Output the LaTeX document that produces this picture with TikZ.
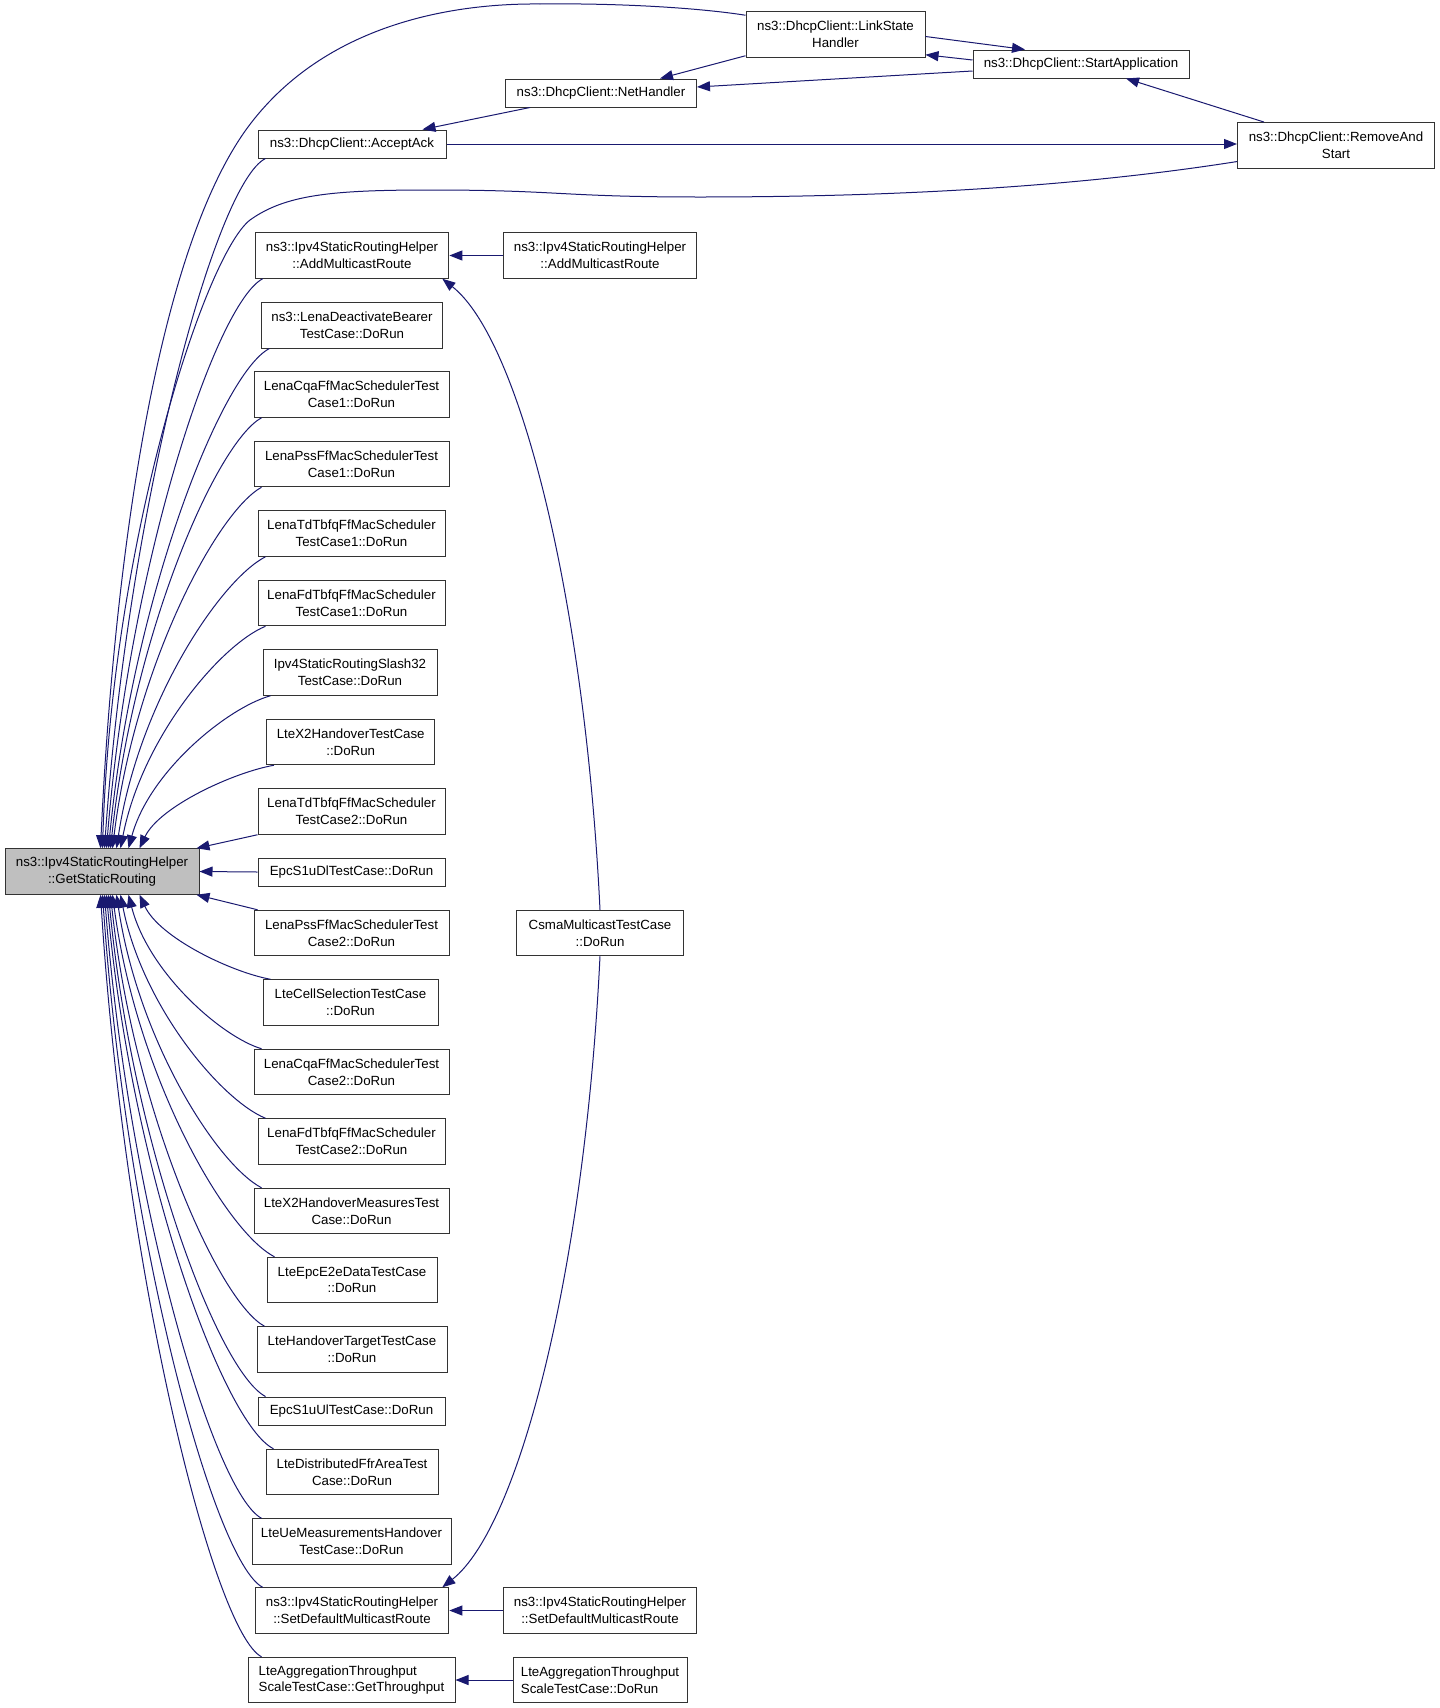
\documentclass[tikz,border=0pt]{standalone}
\usepackage{fontspec}
\setmainfont{Liberation Sans}
\usetikzlibrary{arrows.meta}
\definecolor{edgeblue}{HTML}{191970}
\definecolor{boxgray}{HTML}{BFBFBF}
\tikzset{
	fn/.style={draw=black!80, line width=1pt, fill=white, inner xsep=0pt, inner ysep=0pt, minimum height=28pt, align=center, font=\fontsize{13.3}{16.7}\selectfont},
	fnn/.style={fn, minimum height=45.5pt},
	call/.style={draw=edgeblue, line width=1pt, -{Triangle[length=13pt,width=10pt]}}
}

\begin{document}
\begin{tikzpicture}[x=1pt,y=1pt]
			%%%%% START %%%%%
			
			\path[fill=white] (0,0) rectangle (1440,-1708);
			
			% top row
			\node[fnn, minimum width=179pt] (ls) at (835.5,-34.5) {ns3::DhcpClient::LinkState\\Handler};
			\node[fn, minimum width=216pt] (sa) at (1081,-64) {ns3::DhcpClient::StartApplication};
			\node[fn, minimum width=191pt] (net) at (601,-93) {ns3::DhcpClient::NetHandler};
			\node[fnn, minimum width=197pt] (ras) at (1336,-145.3) {ns3::DhcpClient::RemoveAnd\\Start};
			
			% main function
			\node[fnn, minimum width=194pt, fill=boxgray] (gsr) at (102,-871.5) {ns3::Ipv4StaticRoutingHelper\\::GetStaticRouting};
			
			% callers
			\node[fn, minimum width=188pt] (acc) at (352,-144) {ns3::DhcpClient::AcceptAck};
			\node[fnn, minimum width=193.7pt] (am1) at (352,-255.5) {ns3::Ipv4StaticRoutingHelper\\::AddMulticastRoute};
			\node[fnn, minimum width=180.3pt] (deact) at (352,-325.3) {ns3::LenaDeactivateBearer\\TestCase::DoRun};
			\node[fnn, minimum width=195pt] (cqa1) at (351.5,-394.5) {LenaCqaFfMacSchedulerTest\\Case1::DoRun};
			\node[fnn, minimum width=195pt] (pss1) at (351.5,-464) {LenaPssFfMacSchedulerTest\\Case1::DoRun};
			\node[fnn, minimum width=187pt] (tdtbfq1) at (351.5,-533.5) {LenaTdTbfqFfMacScheduler\\TestCase1::DoRun};
			\node[fnn, minimum width=187pt] (fdtbfq1) at (351.5,-603) {LenaFdTbfqFfMacScheduler\\TestCase1::DoRun};
			\node[fnn, minimum width=174pt] (slash32) at (350,-672.5) {Ipv4StaticRoutingSlash32\\TestCase::DoRun};
			\node[fnn, minimum width=168.5pt] (ltex2) at (350.7,-742) {LteX2HandoverTestCase\\::DoRun};
			\node[fnn, minimum width=187pt] (tdtbfq2) at (351.5,-811.5) {LenaTdTbfqFfMacScheduler\\TestCase2::DoRun};
			\node[fn, minimum width=187pt] (epcdl) at (351.5,-872) {EpcS1uDlTestCase::DoRun};
			\node[fnn, minimum width=195pt] (pss2) at (351.5,-933) {LenaPssFfMacSchedulerTest\\Case2::DoRun};
			\node[fnn, minimum width=175pt] (cellsel) at (350.5,-1002.5) {LteCellSelectionTestCase\\::DoRun};
			\node[fnn, minimum width=195pt] (cqa2) at (351.5,-1072) {LenaCqaFfMacSchedulerTest\\Case2::DoRun};
			\node[fnn, minimum width=187pt] (fdtbfq2) at (351.5,-1141.5) {LenaFdTbfqFfMacScheduler\\TestCase2::DoRun};
			\node[fnn, minimum width=195pt] (x2meas) at (351.5,-1211) {LteX2HandoverMeasuresTest\\Case::DoRun};
			\node[fnn, minimum width=170pt] (epce2e) at (352,-1280) {LteEpcE2eDataTestCase\\::DoRun};
			\node[fnn, minimum width=190pt] (hotarget) at (352,-1349.5) {LteHandoverTargetTestCase\\::DoRun};
			\node[fn, minimum width=187pt] (epcul) at (351.5,-1411) {EpcS1uUlTestCase::DoRun};
			\node[fnn, minimum width=172pt] (distffr) at (352,-1472) {LteDistributedFfrAreaTest\\Case::DoRun};
			\node[fnn, minimum width=199pt] (uemeas) at (351.5,-1541.5) {LteUeMeasurementsHandover\\TestCase::DoRun};
			\node[fnn, minimum width=193.7pt] (sd1) at (352,-1610.5) {ns3::Ipv4StaticRoutingHelper\\::SetDefaultMulticastRoute};
			\node[fnn, minimum width=207pt, align=left] (agg) at (351.5,-1680) {LteAggregationThroughput\\ScaleTestCase::GetThroughput};
			
			% second column
			\node[fnn, minimum width=192.4pt] (am2) at (600,-255.5) {ns3::Ipv4StaticRoutingHelper\\::AddMulticastRoute};
			\node[fnn, minimum width=166.4pt] (csma) at (600,-933) {CsmaMulticastTestCase\\::DoRun};
			\node[fnn, minimum width=192.4pt] (sd2) at (600,-1610.5) {ns3::Ipv4StaticRoutingHelper\\::SetDefaultMulticastRoute};
			\node[fnn, minimum width=174pt, align=left] (aggdo) at (600,-1680) {LteAggregationThroughput\\ScaleTestCase::DoRun};
			
			% dhcp client calls
			\draw[call] ([xshift=25pt]net.south west) -- ([xshift=-24pt]acc.north east);
			\draw[call] ([yshift=2pt]ls.south west) -- ([xshift=-37pt]net.north east);
			\draw[call] ([yshift=-7pt]sa.west) -- ([yshift=6pt]net.east);
			\draw[call] ([yshift=-2pt]ls.east) -- ([xshift=-56pt]sa.north);
			\draw[call] ([yshift=4pt]sa.west) -- ([yshift=3pt]ls.south east);
			\draw[call] ([xshift=-72pt]ras.north) -- ([xshift=45pt]sa.south);
			\draw[call] (acc.east) -- (acc.east -| ras.west);
			
			% long ones round the top
			\draw[call] ([yshift=-4pt]ls.north west) .. controls (700,-8) and (620,-3) .. (540,-4)
				.. controls (440,-3) and (320,-30) .. (248,-127)
				.. controls (150,-260) and (112,-600) .. ([xshift=96pt]gsr.north west);
			\draw[call] ([yshift=7pt]ras.south west) .. controls (1120,-180) and (950,-197) .. (700,-197)
				.. controls (560,-197) and (560,-190) .. (430,-190)
				.. controls (330,-190) and (285,-195) .. (250,-220)
				.. controls (205,-255) and (112,-540) .. ([xshift=98pt]gsr.north west);
			
			% callers above
			\draw[call] ([xshift=8pt]acc.south west) .. controls +(-50,-25) and +(24,345) .. ([xshift=100pt]gsr.north west);
			\draw[call] ([xshift=8pt]am1.south west) .. controls +(-47,-25) and +(23,285) .. ([xshift=102pt]gsr.north west);
			\draw[call] ([xshift=8pt]deact.south west) .. controls +(-48,-25) and +(24,250) .. ([xshift=104pt]gsr.north west);
			\draw[call] ([xshift=8pt]cqa1.south west) .. controls +(-45,-25) and +(23,216) .. ([xshift=106pt]gsr.north west);
			\draw[call] ([xshift=8pt]pss1.south west) .. controls +(-45,-25) and +(22,181) .. ([xshift=108pt]gsr.north west);
			\draw[call] ([xshift=8pt]tdtbfq1.south west) .. controls +(-45,-23) and +(22,146) .. ([xshift=112pt]gsr.north west);
			\draw[call] ([xshift=8pt]fdtbfq1.south west) .. controls +(-44,-18) and +(22,112) .. ([xshift=116pt]gsr.north west);
			\draw[call] ([xshift=8pt]slash32.south west) .. controls +(-43,-12) and +(21,77) .. ([xshift=124pt]gsr.north west);
			\draw[call] ([xshift=8pt]ltex2.south west) .. controls +(-40,-7) and +(20,42) .. ([xshift=135pt]gsr.north west);
			\draw[call] (tdtbfq2.south west) -- ([xshift=-3pt]gsr.north east);
			\draw[call] (epcdl.west) -- (gsr.east);
			\draw[call] ([xshift=4pt]pss2.north west) -- ([xshift=-3pt]gsr.south east);
			
			% callers below
			\draw[call] ([xshift=8pt]cellsel.north west) .. controls +(-39,7) and +(20,-43) .. ([xshift=135pt]gsr.south west);
			\draw[call] ([xshift=8pt]cqa2.north west) .. controls +(-40,12) and +(20,-78) .. ([xshift=124pt]gsr.south west);
			\draw[call] ([xshift=8pt]fdtbfq2.north west) .. controls +(-44,18) and +(22,-112) .. ([xshift=116pt]gsr.south west);
			\draw[call] ([xshift=8pt]x2meas.north west) .. controls +(-44,23) and +(22,-147) .. ([xshift=112pt]gsr.south west);
			\draw[call] ([xshift=8pt]epce2e.north west) .. controls +(-49,25) and +(24,-182) .. ([xshift=108pt]gsr.south west);
			\draw[call] ([xshift=8pt]hotarget.north west) .. controls +(-46,25) and +(23,-216) .. ([xshift=106pt]gsr.south west);
			\draw[call] ([xshift=8pt]epcul.north west) .. controls +(-47,25) and +(24,-251) .. ([xshift=104pt]gsr.south west);
			\draw[call] ([xshift=8pt]distffr.north west) .. controls +(-50,25) and +(25,-278) .. ([xshift=102pt]gsr.south west);
			\draw[call] ([xshift=10pt]uemeas.north west) .. controls +(-47,25) and +(24,-312) .. ([xshift=100pt]gsr.south west);
			\draw[call] ([xshift=8pt]sd1.north west) .. controls +(-48,25) and +(24,-347) .. ([xshift=98pt]gsr.south west);
			\draw[call] ([xshift=14pt]agg.north west) .. controls +(-48,25) and +(24,-381) .. ([xshift=96pt]gsr.south west);
			
			% second column calls
			\draw[call] (am2.west) -- (am1.east);
			\draw[call] (csma.north) .. controls (585,-600) and (520,-340) .. ([xshift=-7pt]am1.south east);
			\draw[call] (csma.south) .. controls (585,-1266) and (520,-1526) .. ([xshift=-7pt]sd1.north east);
			\draw[call] (sd2.west) -- (sd1.east);
			\draw[call] (aggdo.west) -- (agg.east);
			
			%%%%% END %%%%%
\end{tikzpicture}
\end{document}
